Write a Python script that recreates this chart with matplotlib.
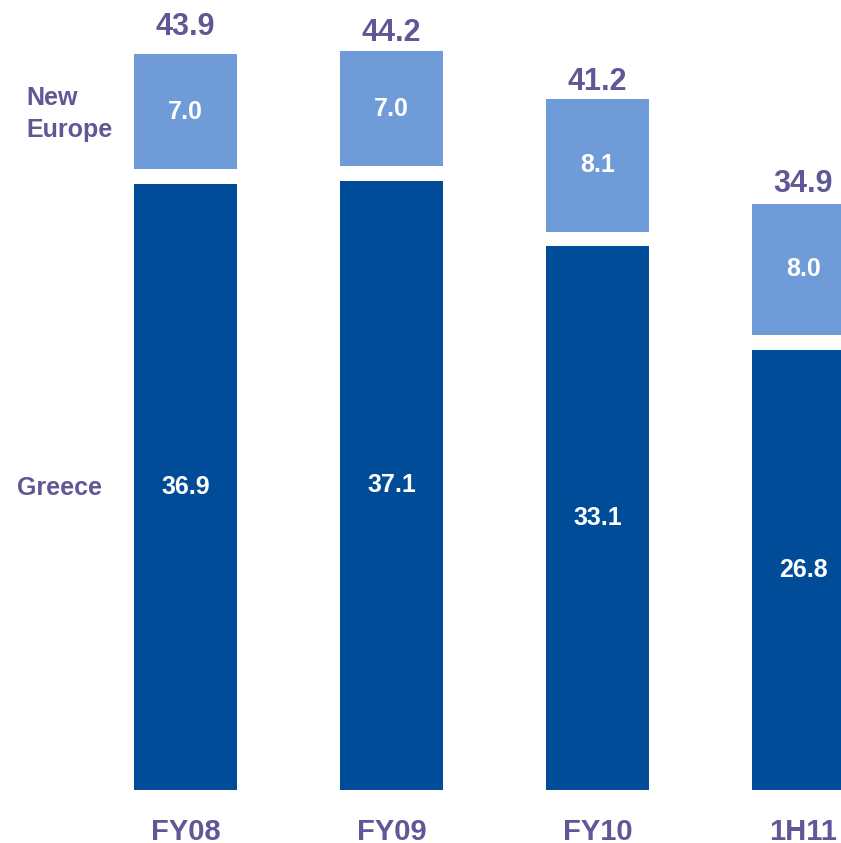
import matplotlib.pyplot as plt

# data
periods = ["FY08", "FY09", "FY10", "1H11"]
greece = [36.9, 37.1, 33.1, 26.8]
new_europe = [7.0, 7.0, 8.1, 8.0]
totals = [43.9, 44.2, 41.2, 34.9]

dark_blue = "#004C99"
light_blue = "#6F9BD8"
purple = "#5F5897"
gap = 0.9  # white gap between the two segments
lift = [1.16, 0.6, 0.55, 0.73]  # baseline of each total above its bar

fig = plt.figure(figsize=(8.41, 8.43), dpi=100)
ax = fig.add_axes([0, 0, 1, 1])
ax.set_xlim(-0.9005, 3.182)
ax.set_ylim(-3.23, 48.11)
ax.axis("off")

x = range(len(periods))
ax.bar(x, greece, width=0.5, color=dark_blue)
tops_bottom = [g + gap for g in greece]
ax.bar(x, new_europe, width=0.5, bottom=tops_bottom, color=light_blue)

font = ["Liberation Sans", "DejaVu Sans"]

for i in x:
    ax.text(i, greece[i] / 2, f"{greece[i]:.1f}", color="white", fontsize=18,
            fontweight="bold", ha="center", va="center", family=font)
    ax.text(i, tops_bottom[i] + new_europe[i] / 2, f"{new_europe[i]:.1f}",
            color="white", fontsize=18, fontweight="bold", ha="center",
            va="center", family=font)
    top = tops_bottom[i] + new_europe[i]
    ax.text(i, top + lift[i], f"{totals[i]:.1f}", color=purple, fontsize=22,
            fontweight="bold", ha="center", va="baseline", family=font)
    ax.text(i, -3.05, periods[i], color=purple, fontsize=21, fontweight="bold",
            ha="center", va="baseline", family=font)

# series labels on the left
ax.text(26 / 841, 1 - 114 / 843, "New\nEurope", transform=ax.transAxes,
        color=purple, fontsize=18, fontweight="bold", ha="left", va="center",
        linespacing=1.4, family=font)
ax.text(17 / 841, 1 - 488 / 843, "Greece", transform=ax.transAxes,
        color=purple, fontsize=18, fontweight="bold", ha="left", va="center",
        family=font)

fig.savefig("out.png", dpi=100)
